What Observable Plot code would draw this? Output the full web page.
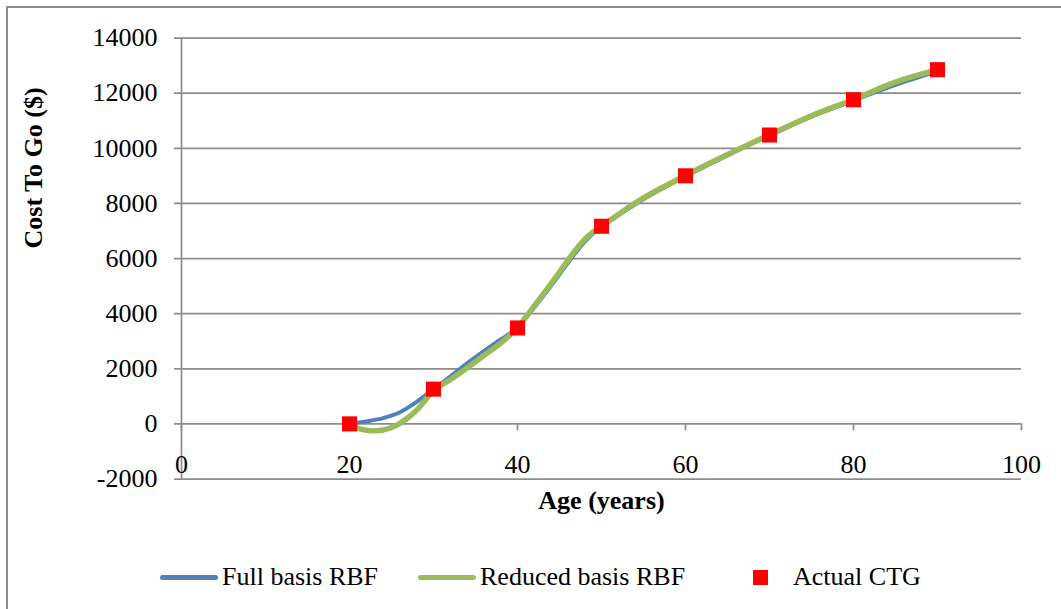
<!DOCTYPE html>
<html>
<head>
<meta charset="utf-8">
<script src="https://cdn.jsdelivr.net/npm/d3@7"></script>
<script src="https://cdn.jsdelivr.net/npm/@observablehq/plot@0.6"></script>
<style>
  html, body { margin: 0; padding: 0; background: #fff; }
  body { width: 1061px; height: 609px; overflow: hidden; position: relative; font-family: "Liberation Serif", "Times New Roman", serif; }
  #frame { position: absolute; left: 6px; top: 6px; width: 1100px; height: 700px; border: 2px solid #8c8c8c; pointer-events: none; }
  #chart svg { display: block; }
  #legend { position: relative; height: 64px; font-size: 26px; color: #000; }
  #legend .item { position: absolute; top: 0; height: 64px; display: flex; align-items: center; }
  #legend .swatch-line { width: 58px; height: 5px; border-radius: 3px; margin-right: 4px; }
  #legend .swatch-square { width: 15px; height: 15px; margin-right: 25px; }
</style>
</head>
<body>
<div id="chart"></div>
<div id="legend"></div>
<div id="frame"></div>
<script>
// Age axis ticks and cost-to-go axis ticks
const xTicks = [0, 20, 40, 60, 80, 100];
const yTicks = [-2000, 0, 2000, 4000, 6000, 8000, 10000, 12000, 14000];

// Actual cost to go at each decade of age
const actualAge = [20, 30, 40, 50, 60, 70, 80, 90];
const actualCtg = [0, 1260, 3480, 7170, 9000, 10480, 11760, 12850];

// Full basis RBF approximation
const fullAge = [20, 22, 24, 26, 28, 30, 32, 34, 36, 38, 39, 40, 41, 42, 43, 44, 45, 46, 47, 48, 49, 50, 55, 60, 65, 70, 75, 80, 85, 90];
const fullCtg = [0, 90, 210, 420, 800, 1260, 1720, 2200, 2640, 3060, 3260, 3480, 3840, 4220, 4610, 5010, 5420, 5840, 6240, 6600, 6910, 7150, 8150, 8980, 9740, 10460, 11150, 11730, 12300, 12790];

// Reduced basis RBF approximation
const reducedAge = [20, 21, 22, 23, 24, 25, 26, 27, 28, 29, 30, 32, 34, 36, 37, 38, 39, 40, 41, 42, 43, 44, 45, 46, 47, 48, 49, 50, 55, 60, 65, 70, 75, 80, 85, 90];
const reducedCtg = [0, -160, -230, -250, -220, -130, 20, 230, 500, 850, 1230, 1600, 2030, 2480, 2700, 2930, 3190, 3480, 3880, 4280, 4680, 5090, 5510, 5940, 6340, 6690, 6960, 7170, 8200, 9010, 9770, 10490, 11180, 11770, 12400, 12850];

const seriesNames = ["Full basis RBF", "Reduced basis RBF", "Actual CTG"];
const xTitle = "Age (years)";
const yTitle = "Cost To Go ($)";

const gridColor = "#8c8c8c";
const blue = "#4f81bd";
const green = "#9bbb59";
const red = "#ff0000";
const font = "Liberation Serif";
const fs = 26;

const full = fullAge.map((a, i) => ({age: a, ctg: fullCtg[i]}));
const reduced = reducedAge.map((a, i) => ({age: a, ctg: reducedCtg[i]}));
const actual = actualAge.map((a, i) => ({age: a, ctg: actualCtg[i]}));

const chart = Plot.plot({
  width: 1061,
  height: 545,
  marginLeft: 181,
  marginRight: 40,
  marginTop: 37.5,
  marginBottom: 66.5,
  style: {fontFamily: font, background: "transparent"},
  x: {domain: [0, 100], axis: null},
  y: {domain: [-2000, 14000], axis: null},
  marks: [
    // horizontal gridlines, with their short left ticks
    Plot.ruleY(yTicks, {stroke: gridColor, strokeWidth: 1.75, insetLeft: -7}),
    // vertical axis line
    Plot.ruleX([0], {stroke: gridColor, strokeWidth: 1.75}),
    // tick marks hanging below the zero line
    Plot.ruleX(xTicks, {x: d => d, y1: 0, y2: 0, insetBottom: -7, stroke: gridColor, strokeWidth: 1.75}),
    // y tick labels
    Plot.axisY(yTicks, {tickSize: 0, tickPadding: 24, fontSize: fs, fill: "#000", label: null, tickFormat: d => String(d)}),
    // x tick labels, set just below the zero line
    Plot.text(xTicks, {x: d => d, y: 0, dy: 41, text: d => String(d), fontSize: fs, fill: "#000"}),
    // axis titles
    Plot.text([xTitle], {frameAnchor: "bottom", dy: 30, text: d => d, fontSize: fs, fontWeight: "bold", fill: "#000"}),
    Plot.text([yTitle], {frameAnchor: "left", dx: -148, dy: -10, rotate: -90, text: d => d, fontSize: fs, fontWeight: "bold", fill: "#000"}),
    // approximations and actual values
    Plot.line(full, {x: "age", y: "ctg", stroke: blue, strokeWidth: 4, curve: "catmull-rom"}),
    Plot.line(reduced, {x: "age", y: "ctg", stroke: green, strokeWidth: 5.5, curve: "catmull-rom"}),
    Plot.dot(actual, {x: "age", y: "ctg", symbol: "square", r: 8.5, fill: red, stroke: null})
  ]
});
document.getElementById("chart").appendChild(chart);

// legend row beneath the plot
const legend = document.getElementById("legend");
const legendItems = [
  {name: seriesNames[0], kind: "line", color: blue, left: 160},
  {name: seriesNames[1], kind: "line", color: green, left: 418},
  {name: seriesNames[2], kind: "square", color: red, left: 753}
];
for (const it of legendItems) {
  const item = document.createElement("div");
  item.className = "item";
  item.style.left = it.left + "px";
  const sw = document.createElement("div");
  sw.className = it.kind === "line" ? "swatch-line" : "swatch-square";
  sw.style.background = it.color;
  const label = document.createElement("span");
  label.textContent = it.name;
  item.appendChild(sw);
  item.appendChild(label);
  legend.appendChild(item);
}
</script>
</body>
</html>
